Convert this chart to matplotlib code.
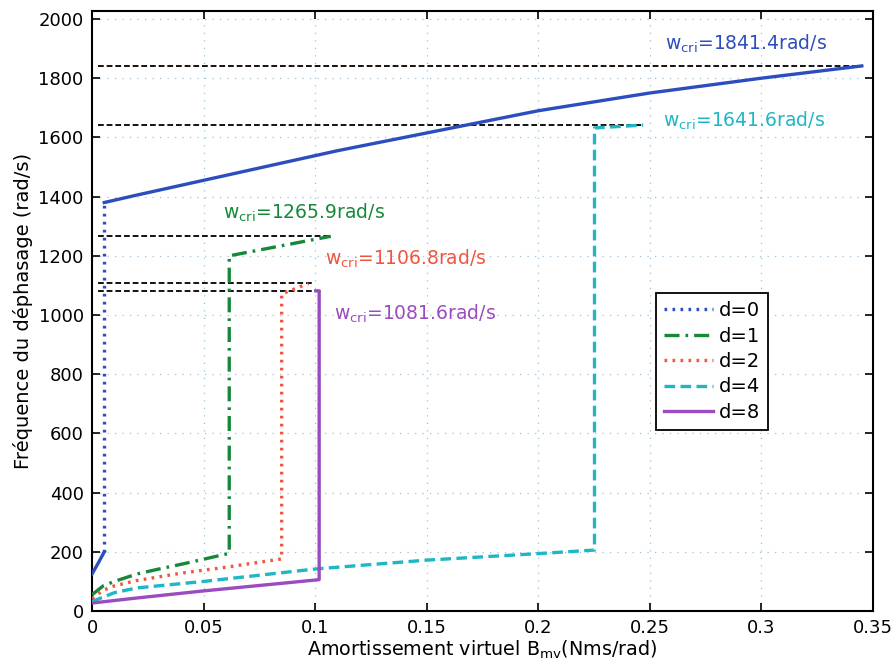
import matplotlib
matplotlib.use("Agg")
import matplotlib.pyplot as plt
from matplotlib.lines import Line2D

plt.rcParams['font.family'] = ['DejaVu Sans']
plt.rcParams['font.size'] = 13
plt.rcParams['mathtext.default'] = 'regular'

# ---- data ----
# d = 0 : lower branch, jump, upper branch
d0_low_x = [0.0, 0.003, 0.0055]
d0_low_y = [125, 165, 200]
d0_up_x = [0.0055, 0.02, 0.05, 0.08, 0.11, 0.15, 0.20, 0.25, 0.30, 0.345]
d0_up_y = [1380, 1405, 1455, 1505, 1555, 1615, 1690, 1750, 1800, 1841.4]

d1_x = [0.0, 0.005, 0.01, 0.02, 0.03, 0.04, 0.05, 0.0615, 0.0615, 0.107]
d1_y = [55, 85, 100, 125, 142, 158, 175, 195, 1200, 1265.9]

d2_x = [0.0, 0.005, 0.01, 0.02, 0.04, 0.06, 0.085, 0.085, 0.097]
d2_y = [42, 70, 85, 103, 128, 148, 176, 1071, 1106.8]

d4_x = [0.0, 0.01, 0.02, 0.05, 0.10, 0.15, 0.20, 0.2252, 0.2252, 0.247]
d4_y = [32, 62, 78, 100, 142, 172, 194, 206, 1632, 1641.6]

d8_x = [0.0, 0.02, 0.05, 0.08, 0.1018, 0.1018, 0.1003]
d8_y = [27, 44, 68, 90, 106, 1081.6, 1081.6]

# critical frequencies (black dashed reference lines)
wcri = [1841.4, 1641.6, 1265.9, 1106.8, 1081.6]
wcri_xend = [0.345, 0.247, 0.107, 0.0995, 0.103]

legend_labels = ['d=0', 'd=1', 'd=2', 'd=4', 'd=8']
x_ticks = [0, 0.05, 0.1, 0.15, 0.2, 0.25, 0.3, 0.35]
x_ticklabels = ['0', '0.05', '0.1', '0.15', '0.2', '0.25', '0.3', '0.35']
y_ticks = [0, 200, 400, 600, 800, 1000, 1200, 1400, 1600, 1800, 2000]

# annotations: (text value, x, y)
ann_vals = ['1841.4', '1641.6', '1265.9', '1106.8', '1081.6']
ann_x = [0.257, 0.256, 0.0585, 0.1045, 0.1085]
ann_y = [1915, 1655, 1345, 1190, 1005]

# ---- styles ----
c_blue = '#2c4dbd'
c_green = '#16883a'
c_red = '#f0553d'
c_cyan = '#1fb6c6'
c_purple = '#9a4bbf'

fig = plt.figure(figsize=(8.96, 6.70), dpi=100)
ax = fig.add_axes([0.1027, 0.088, 0.8716, 0.8956])

lw = 2.4
dot = (0, (0.8, 1.6))
dashdot = (0, (4.5, 1.8, 0.8, 1.8))
dash = (0, (3.2, 1.6))

# black dashed reference lines
for w, xe in zip(wcri, wcri_xend):
    ax.plot([0.0025, xe], [w, w], color='black', lw=1.3, linestyle=(0, (3.2, 1.6)), zorder=3)

ax.plot(d0_low_x, d0_low_y, color=c_blue, lw=lw, zorder=4)
ax.plot([d0_low_x[-1], d0_up_x[0]], [d0_low_y[-1], d0_up_y[0]], color=c_blue, lw=lw,
        linestyle=dot, zorder=4)
ax.plot(d0_up_x, d0_up_y, color=c_blue, lw=lw, zorder=4)
ax.plot(d1_x, d1_y, color=c_green, lw=lw, linestyle=dashdot, zorder=4)
ax.plot(d2_x, d2_y, color=c_red, lw=lw, linestyle=dot, zorder=4)
ax.plot(d4_x, d4_y, color=c_cyan, lw=lw, linestyle=dash, zorder=4)
ax.plot(d8_x, d8_y, color=c_purple, lw=lw, zorder=4)

handles = [
    Line2D([], [], color=c_blue, lw=lw, linestyle=dot),
    Line2D([], [], color=c_green, lw=lw, linestyle=dashdot),
    Line2D([], [], color=c_red, lw=lw, linestyle=dot),
    Line2D([], [], color=c_cyan, lw=lw, linestyle=dash),
    Line2D([], [], color=c_purple, lw=lw),
]
leg = ax.legend(handles, legend_labels, loc='upper left', bbox_to_anchor=(0.722, 0.53),
                borderaxespad=0, fancybox=False, framealpha=1, edgecolor='black',
                handlelength=2.5, handletextpad=0.3, labelspacing=0.33, borderpad=0.42,
                fontsize=14)
leg.get_frame().set_linewidth(1.3)

ann_colors = [c_blue, c_cyan, c_green, c_red, c_purple]
for v, x, y, c in zip(ann_vals, ann_x, ann_y, ann_colors):
    ax.text(x, y, r'w$_{cri}$=' + v + 'rad/s', color=c, fontsize=13.5,
            va='center', ha='left', zorder=5)

ax.set_xlim(0, 0.35)
ax.set_ylim(0, 2027)
ax.set_xticks(x_ticks)
ax.set_xticklabels(x_ticklabels)
ax.set_yticks(y_ticks)
ax.tick_params(direction='in', top=True, right=True, length=6, width=1.2, labelsize=13,
               pad=6)
for s in ax.spines.values():
    s.set_linewidth(1.5)
ax.grid(True, linestyle=(0, (1, 5)), color='#9dc3dc', linewidth=0.9)
ax.set_axisbelow(True)

ax.set_xlabel(r'Amortissement virtuel B$_{mv}$(Nms/rad)', fontsize=13.8, labelpad=1)
ax.set_ylabel('Fréquence du déphasage (rad/s)', fontsize=14, labelpad=4)

fig.savefig('out.png', dpi=100)
